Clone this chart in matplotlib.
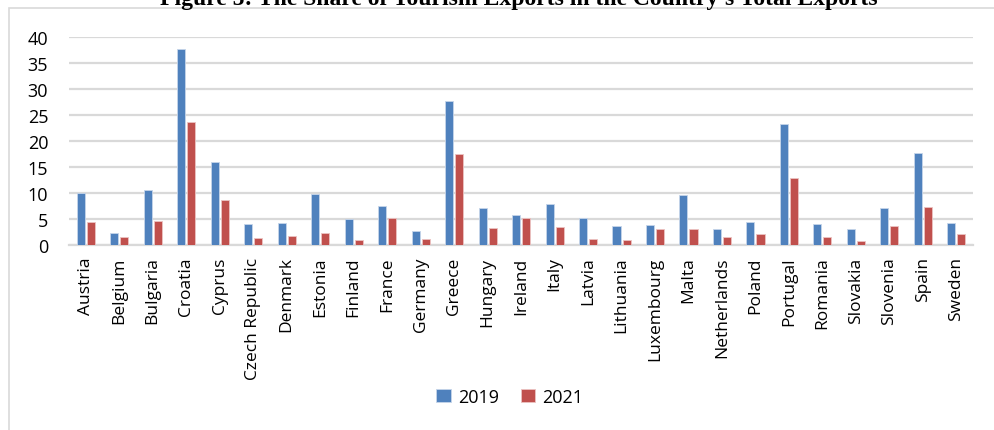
import numpy as np
import matplotlib.pyplot as plt
from matplotlib.patches import Rectangle

paises = ["Austria", "Belgium", "Bulgaria", "Croatia", "Cyprus", "Czech Republic",
          "Denmark", "Estonia", "Finland", "France", "Germany", "Greece", "Hungary",
          "Ireland", "Italy", "Latvia", "Lithuania", "Luxembourg", "Malta",
          "Netherlands", "Poland", "Portugal", "Romania", "Slovakia", "Slovenia",
          "Spain", "Sweden"]

valores_2019 = [10.1, 2.3, 10.6, 37.7, 15.9, 4.1, 4.35, 9.8, 5.05, 7.5, 2.75, 27.6, 7.1,
                5.9, 7.9, 5.2, 3.7, 3.9, 9.6, 3.1, 4.5, 23.3, 4.15, 3.1, 7.2, 17.7, 4.3]
valores_2021 = [4.4, 1.65, 4.7, 23.6, 8.75, 1.4, 1.7, 2.4, 1.0, 5.2, 1.2, 17.5, 3.25,
                5.2, 3.5, 1.2, 1.1, 3.1, 3.1, 1.5, 2.1, 13.0, 1.5, 0.9, 3.7, 7.35, 2.2]

azul = "#4F81BD"
rojo = "#C0504D"
gris = "#D9D9D9"
fuente = "Open Sans"

fig = plt.figure(figsize=(9.94, 4.31), dpi=100)
ax = fig.add_axes([0.0694, 0.4285, 0.9096, 0.484])

x = np.arange(len(paises))
ancho = 0.24
ax.bar(x - 0.15, valores_2019, ancho, color=azul, edgecolor="#c6d5ea", linewidth=0.6,
       label="2019", zorder=3)
ax.bar(x + 0.15, valores_2021, ancho, color=rojo, edgecolor="#ecc3c2", linewidth=0.6,
       label="2021", zorder=3)

ax.set_xlim(-0.5, len(paises) - 0.5)
ax.set_ylim(0, 40)
ax.set_yticks(np.arange(0, 41, 5))
ax.grid(axis="y", color=gris, linewidth=1.6, zorder=0)
for lado in ["left", "right", "top"]:
    ax.spines[lado].set_visible(False)
ax.spines["bottom"].set_color(gris)
ax.spines["bottom"].set_linewidth(1.6)
ax.tick_params(length=0)
ax.tick_params(axis="y", pad=15)
ax.tick_params(axis="x", pad=8)
ax.set_xticks(x)
ax.set_xticklabels(paises, rotation=90, fontfamily=fuente, fontsize=12.5)
for t in ax.get_yticklabels():
    t.set_fontfamily(fuente)
    t.set_fontsize(13)

fig.legend(loc="center", bbox_to_anchor=(0.513, 0.077), ncol=2, frameon=False,
           prop={"family": fuente, "size": 13}, handlelength=0.8, handleheight=0.8,
           handletextpad=0.4, columnspacing=1.2)

fig.patches.append(Rectangle((0.0095, -0.05), 1.2, 1.029, transform=fig.transFigure,
                             fill=False, edgecolor=gris, linewidth=1.2))

fig.text(0.522, 1 - 5 / 431, "Figure 5: The Share of Tourism Exports in the Country's Total Exports",
         ha="center", va="baseline", fontfamily="Liberation Serif", fontweight="bold",
         fontsize=17)

fig.savefig("out.png", dpi=100)
